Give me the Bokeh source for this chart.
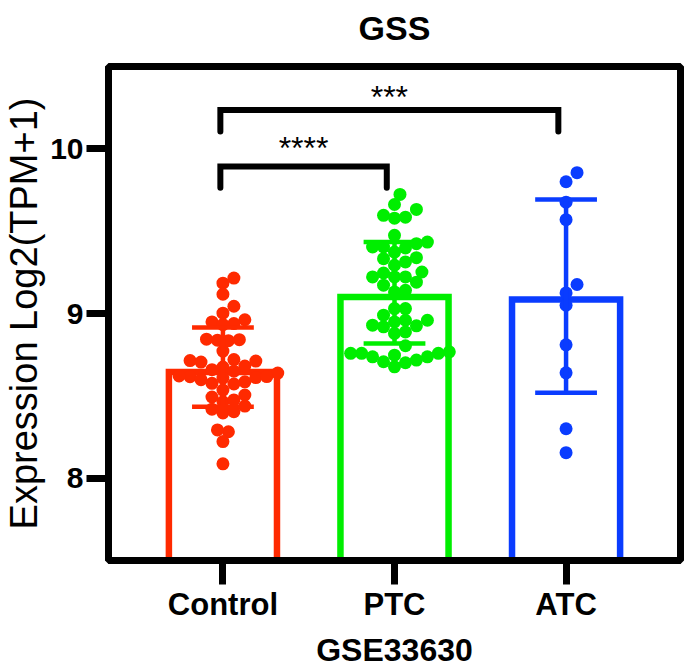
import numpy as np
from bokeh.plotting import figure
from bokeh.models import Range1d, FixedTicker, ColumnDataSource, Title
from bokeh.embed import file_html
from bokeh.resources import INLINE
from bokeh.core.properties import value

# ---------------- data ----------------
title_text = "GSS"
x_title = "GSE33630"
y_title = "Expression Log2(TPM+1)"
groups = ["Control", "PTC", "ATC"]
group_colors = ["#FF2A00", "#00EE00", "#0A3CFF"]
bar_means = [8.645, 9.10, 9.085]
err_upper = [8.915, 9.434, 9.693]
err_lower = [8.434, 8.818, 8.519]
y_ticks = [8, 9, 10]

control_vals = [9.215, 9.184, 9.117, 9.044, 9.002, 8.962, 8.949, 8.939, 8.933,
                8.841, 8.835, 8.844, 8.838, 8.772, 8.714, 8.711, 8.720, 8.705,
                8.681, 8.675, 8.659, 8.638, 8.611, 8.616, 8.621, 8.608, 8.617,
                8.598, 8.585, 8.576, 8.572, 8.535, 8.505, 8.493, 8.464, 8.475,
                8.438, 8.396, 8.404, 8.419, 8.282, 8.293, 8.222, 8.087, 8.650]
ptc_vals = [9.723, 9.662, 9.632, 9.596, 9.579, 9.585, 9.475, 9.404, 9.398,
            9.424, 9.434, 9.404, 9.373, 9.339, 9.333, 9.313, 9.293, 9.252,
            9.222, 9.246, 9.222, 9.222, 9.172, 9.131, 9.141, 9.030, 9.030,
            8.949, 8.929, 8.959, 8.959, 8.990, 8.888, 8.879, 8.919, 8.925,
            8.804, 8.758, 8.707, 8.758, 8.737, 8.747, 8.767, 8.737, 8.701,
            8.717, 8.758, 8.676, 9.190]
atc_vals = [9.800, 9.855, 9.676, 9.570, 9.176, 9.125, 9.050, 8.810, 8.640,
            8.300, 8.155]
group_vals = [control_vals, ptc_vals, atc_vals]

# significance brackets
comp_left = [0, 0]
comp_right = [1, 2]
comp_top = [9.893, 10.236]
comp_leg = [9.763, 10.105]
comp_text = ["****", "***"]
comp_text_y = [10.005, 10.315]

# ---------------- layout ----------------
W, H = 685, 670
B_LEFT, B_RIGHT, B_TOP, B_BOTTOM = 106, 5, 66, 109
X0, X1 = 0.333, 3.667
Y0, Y1 = 7.5, 10.5
px_x = (W - B_LEFT - B_RIGHT) / (X1 - X0)
px_y = (H - B_TOP - B_BOTTOM) / (Y1 - Y0)
FONT = "Liberation Sans"
xs = [1, 2, 3]

p = figure(width=W, height=H, output_backend="svg", toolbar_location=None,
           title=None,
           x_range=Range1d(X0, X1), y_range=Range1d(Y0, Y1),
           min_border_left=B_LEFT, min_border_right=B_RIGHT,
           min_border_top=B_TOP, min_border_bottom=B_BOTTOM,
           background_fill_color="white", border_fill_color="white")

# small spacer (closest to the frame) then the title above it
p.add_layout(Title(text=" ", text_font_size="8px", standoff=4), "above")
p.add_layout(Title(text=title_text, align="center", text_font=FONT,
                   text_font_size="34px", text_font_style="bold",
                   text_color="black"), "above")

p.xgrid.visible = False
p.ygrid.visible = False
p.outline_line_color = "black"
p.outline_line_width = 7
p.outline_line_alpha = 1

# y axis
ya = p.yaxis[0]
ya.ticker = FixedTicker(ticks=y_ticks)
ya.axis_line_width = 7
ya.major_tick_line_width = 7
ya.major_tick_out = 22
ya.major_tick_in = 0
ya.minor_tick_line_color = None
ya.major_label_text_font = FONT
ya.major_label_text_font_size = "30px"
ya.major_label_text_font_style = "bold"
ya.major_label_text_color = "black"
ya.major_label_standoff = 3
ya.axis_label = y_title
ya.axis_label_text_font = FONT
ya.axis_label_text_font_size = "38px"
ya.axis_label_text_font_style = "normal"
ya.axis_label_text_color = "black"
ya.axis_label_standoff = 2

# x axis
xa = p.xaxis[0]
xa.ticker = FixedTicker(ticks=xs)
xa.major_label_overrides = {x: g for x, g in zip(xs, groups)}
xa.axis_line_width = 7
xa.major_tick_line_width = 7
xa.major_tick_out = 24
xa.major_tick_in = 0
xa.minor_tick_line_color = None
xa.major_label_text_font = FONT
xa.major_label_text_font_size = "31px"
xa.major_label_text_font_style = "bold"
xa.major_label_text_color = "black"
xa.major_label_standoff = 2
xa.axis_label = x_title
xa.axis_label_text_font = FONT
xa.axis_label_text_font_size = "32px"
xa.axis_label_text_font_style = "bold"
xa.axis_label_text_color = "black"
xa.axis_label_standoff = 7

# bars (open, coloured outline)
bar_src = ColumnDataSource(dict(x=xs, top=bar_means, color=group_colors))
p.vbar(x="x", top="top", bottom=Y0 - 1, width=0.63, source=bar_src,
       fill_color="white", line_color="color", line_width=6.5,
       line_join="miter")


# beeswarm layout of the points (computed, in pixels)
def swarm(vals, d=11.0, step=5.5):
    vals = np.asarray(vals, dtype=float)
    order = np.argsort(vals)
    placed = []
    offs = np.zeros(len(vals))
    for i in order:
        y = vals[i] * px_y
        chosen = 0.0
        found = False
        for k in range(0, 60):
            for s in ([0] if k == 0 else [k, -k]):
                x = s * step
                if all((x - qx) ** 2 + (y - qy) ** 2 >= d * d for qx, qy in placed):
                    chosen = x
                    found = True
                    break
            if found:
                break
        placed.append((chosen, y))
        offs[i] = chosen / px_x
    return offs


for gx, vals, col in zip(xs, group_vals, group_colors):
    offs = swarm(vals)
    src = ColumnDataSource(dict(x=gx + offs, y=vals))
    p.scatter(x="x", y="y", source=src, size=13, marker="circle",
              fill_color=col, line_color=col, line_width=0)

# error bars (mean +/- SD)
cap_w = 62.0 / px_x
eb = ColumnDataSource(dict(x=xs, up=err_upper, lo=err_lower, color=group_colors,
                           xl=[x - cap_w / 2 for x in xs],
                           xr=[x + cap_w / 2 for x in xs]))
p.segment(x0="x", y0="lo", x1="x", y1="up", source=eb, line_color="color",
          line_width=4.5)
p.segment(x0="xl", y0="up", x1="xr", y1="up", source=eb, line_color="color",
          line_width=4.5)
p.segment(x0="xl", y0="lo", x1="xr", y1="lo", source=eb, line_color="color",
          line_width=4.5)

# significance brackets
for gl, gr, top, leg, txt, ty in zip(comp_left, comp_right, comp_top, comp_leg,
                                      comp_text, comp_text_y):
    xl = xs[gl] - 0.015
    xr = xs[gr] - 0.045
    p.line(x=[xl, xl, xr, xr], y=[leg, top, top, leg], line_color="black",
           line_width=6, line_join="miter", line_cap="round")
    p.text(x=[(xl + xr) / 2], y=[ty], text=[txt], text_align="center",
           text_baseline="alphabetic", text_font=value(FONT),
           text_font_size="32px", text_color="black")

open("out.html", "w").write(file_html(p, INLINE))
